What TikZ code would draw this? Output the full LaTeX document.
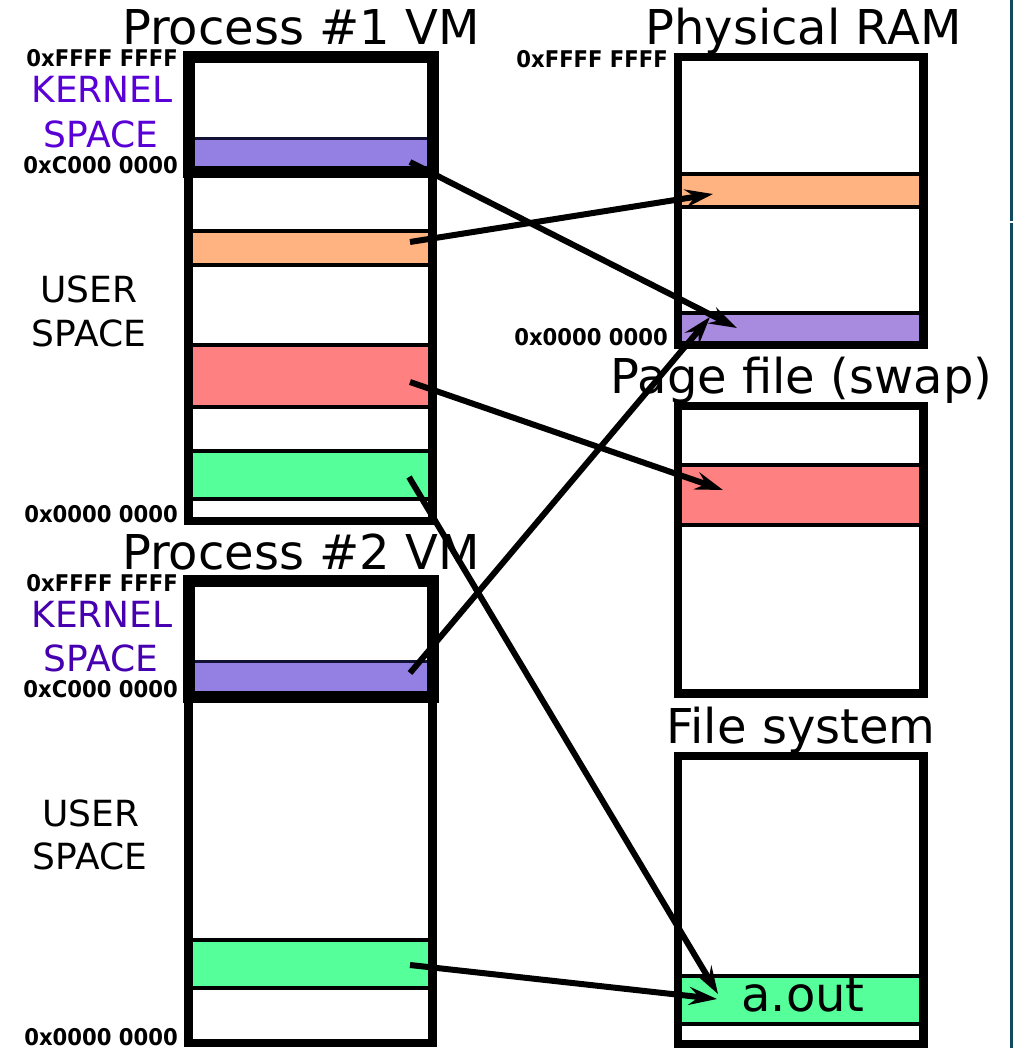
\documentclass[tikz,border=0pt]{standalone}
\usepackage{fontspec}
\setmainfont{DejaVu Sans}
\newfontfamily\addrfont[FakeStretch=0.92]{DejaVu Sans}
\usetikzlibrary{arrows.meta}
\definecolor{kpurple}{RGB}{148,128,227}
\definecolor{rpurple}{RGB}{168,138,222}
\definecolor{orng}{RGB}{255,179,128}
\definecolor{salmon}{RGB}{255,128,128}
\definecolor{mint}{RGB}{85,255,153}
\definecolor{navyline}{RGB}{18,18,52}
\definecolor{kertext}{RGB}{88,0,214}
\definecolor{kertextb}{RGB}{70,0,175}
\definecolor{edgeteal}{RGB}{16,74,94}
\begin{document}
\begin{tikzpicture}[x=1pt,y=-1pt,
  title/.style={inner sep=0, anchor=base, font=\fontsize{48}{58}\selectfont},
  addr/.style={inner sep=0, anchor=base east, font=\addrfont\fontsize{23}{27}\selectfont\bfseries},
  region/.style={inner sep=0, anchor=base, font=\fontsize{36}{43}\selectfont},
  band/.style={draw=black, line width=4},
  kband/.style={draw=navyline, line width=3, fill=kpurple},
  frame/.style={draw=black, line width=8.5},
  kframe/.style={draw=black, line width=12},
  map/.style={line width=6, -{Stealth[length=28pt,width=18pt,inset=10pt]}}]
\useasboundingbox (0,0) rectangle (1013,1048);
\fill[white] (0,0) rectangle (1013,1048);

% right edge strip
\draw[edgeteal, line width=2.6] (1011.7,0) -- (1011.7,221);
\draw[edgeteal, line width=2.6] (1011.7,223.5) -- (1011.7,1048);

% ---------- titles ----------
\node[title] (t1) at (301,45) {Process \#1 VM};
\node[title] (t2) at (301,569) {Process \#2 VM};
\node[title] (tram) at (803.5,45) {Physical RAM};
\node[title] (tswap) at (801.5,393) {Page file (swap)};
\node[title] (tfs) at (801,743) {File system};

% ---------- process 1 address space ----------
\fill[white] (188.5,57) rectangle (432.5,521);
\path[kband] (188.5,138.5) rectangle (432.5,172.5);
\path[band, fill=orng] (188.5,231) rectangle (432.5,265.5);
\path[band, fill=salmon] (188.5,345) rectangle (432.5,406.5);
\path[band, fill=mint] (188.5,451) rectangle (432.5,499);
\draw[frame] (188.5,57) rectangle (432.5,521);
\draw[kframe] (188.5,57) rectangle (432.5,172.5);

\node[addr] (p1top) at (178,67) {0xFFFF FFFF};
\node[region, text=kertext] (p1k1) at (102,103) {KERNEL};
\node[region, text=kertext] (p1k2) at (101,148) {SPACE};
\node[addr] (p1mid) at (178,174) {0xC000 0000};
\node[region] (p1u1) at (89,302) {USER};
\node[region] (p1u2) at (89,346) {SPACE};
\node[addr] (p1bot) at (178,522) {0x0000 0000};

% ---------- process 2 address space ----------
\fill[white] (188.5,581) rectangle (432.5,1043);
\path[kband] (188.5,661.5) rectangle (432.5,697);
\path[band, fill=mint] (188.5,940) rectangle (432.5,988);
\draw[frame] (188.5,581) rectangle (432.5,1043);
\draw[kframe] (188.5,581) rectangle (432.5,697);

\node[addr] (p2top) at (178,591) {0xFFFF FFFF};
\node[region, text=kertextb] (p2k1) at (102,627) {KERNEL};
\node[region, text=kertextb] (p2k2) at (101,671) {SPACE};
\node[addr] (p2mid) at (178,697) {0xC000 0000};
\node[region] (p2u1) at (91,826) {USER};
\node[region] (p2u2) at (90,869) {SPACE};
\node[addr] (p2bot) at (178,1045) {0x0000 0000};

% ---------- physical RAM ----------
\fill[white] (678,57) rectangle (923.5,345);
\path[band, fill=orng] (678,174) rectangle (923.5,207.5);
\path[band, fill=rpurple] (678,312.5) rectangle (923.5,345);
\draw[frame] (678,57) rectangle (923.5,345);
\node[addr] (ramtop) at (668,68) {0xFFFF FFFF};
\node[addr] (rambot) at (668,345) {0x0000 0000};

% ---------- page file ----------
\fill[white] (678,406) rectangle (923.5,693.5);
\path[band, fill=salmon] (678,464.5) rectangle (923.5,525);
\draw[frame] (678,406) rectangle (923.5,693.5);

% ---------- file system ----------
\fill[white] (678,756) rectangle (923.5,1044);
\path[band, fill=mint] (678,976) rectangle (923.5,1023.5);
\draw[frame] (678,756) rectangle (923.5,1044);
\node[title] (aout) at (803,1011) {a.out};

% ---------- mapping end points ----------
\coordinate (p1kern) at (410,162);
\coordinate (p1orng) at (410,242);
\coordinate (p1red) at (410,382);
\coordinate (p1green) at (409,477);
\coordinate (p2kern) at (410,673);
\coordinate (p2green) at (410,965);
\coordinate (ramkA) at (737,328);
\coordinate (ramkB) at (710,317);
\coordinate (ramorng) at (713,194);
\coordinate (swapred) at (723,490);
\coordinate (fsA) at (718,994);
\coordinate (fsB) at (717,999);

% ---------- mappings ----------
\draw[map] (p1kern) -- (ramkA);
\draw[map] (p1orng) -- (ramorng);
\draw[map] (p1red) -- (swapred);
\draw[map] (p1green) -- (fsA);
\draw[map] (p2kern) -- (ramkB);
\draw[map] (p2green) -- (fsB);
\end{tikzpicture}
\end{document}
